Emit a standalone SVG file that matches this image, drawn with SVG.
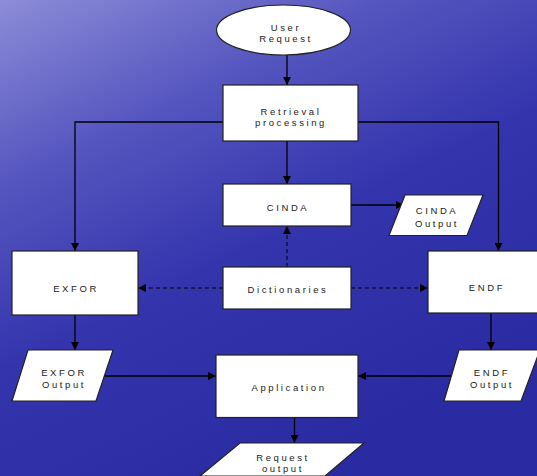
<svg xmlns="http://www.w3.org/2000/svg" width="537" height="476" viewBox="0 0 537 476">
<defs>
<linearGradient id="bg" x1="0" y1="0" x2="0.55" y2="1">
<stop offset="0" stop-color="#8c8cd8"/>
<stop offset="0.3" stop-color="#5656c0"/>
<stop offset="0.6" stop-color="#3434ad"/>
<stop offset="1" stop-color="#2a2aa2"/>
</linearGradient>
<marker id="ah" viewBox="0 0 10 10" refX="10" refY="5" markerWidth="8" markerHeight="8" markerUnits="userSpaceOnUse" orient="auto">
<path d="M0,0 L10,5 L0,10 z" fill="#000"/>
</marker>
</defs>
<style>
.n{fill:#fff;stroke:#222;stroke-width:1.2}
.t{font-family:"Liberation Sans",Arial,sans-serif;font-size:9.5px;fill:#222;letter-spacing:2.6px;text-anchor:middle}
.c{fill:none;stroke:#000;stroke-width:1.3;marker-end:url(#ah)}
.d{fill:none;stroke:#000;stroke-width:1;stroke-dasharray:4,3;marker-end:url(#ah)}
</style>
<rect width="537" height="476" fill="url(#bg)"/>
<g id="connectors">
<path class="c" d="M287,55 V85"/>
<path class="c" d="M223,122 H75 V251"/>
<path class="c" d="M358,122 H498.5 V251"/>
<path class="c" d="M287,141 V184"/>
<path class="c" d="M351,205 H404"/>
<path class="d" d="M287,267 V226"/>
<path class="d" d="M223,288 H138"/>
<path class="d" d="M351,288 H428"/>
<path class="c" d="M75,315 V350"/>
<path class="c" d="M491,313 V350"/>
<path class="c" d="M103,376 H216"/>
<path class="c" d="M452,376 H358"/>
<path class="c" d="M294.5,417.5 V443"/>
</g>
<g id="user-request">
<ellipse class="n" cx="283.5" cy="30" rx="67" ry="25"/>
<text class="t" x="286" y="31">User</text>
<text class="t" x="286" y="42">Request</text>
</g>
<g id="retrieval">
<rect class="n" x="223" y="85" width="135" height="56"/>
<text class="t" x="291" y="115">Retrieval</text>
<text class="t" x="291" y="126">processing</text>
</g>
<g id="cinda">
<rect class="n" x="223" y="184" width="128" height="42"/>
<text class="t" x="288" y="211">CINDA</text>
</g>
<g id="cinda-output">
<polygon class="n" points="405,195 483,195 467,235.5 389,235.5"/>
<text class="t" x="437" y="214">CINDA</text>
<text class="t" x="437" y="227">Output</text>
</g>
<g id="dictionaries">
<rect class="n" x="223" y="267" width="128" height="42"/>
<text class="t" x="288" y="293">Dictionaries</text>
</g>
<g id="exfor">
<rect class="n" x="12" y="251" width="126" height="64"/>
<text class="t" x="76" y="292">EXFOR</text>
</g>
<g id="endf">
<rect class="n" x="428" y="251" width="112" height="62"/>
<text class="t" x="487" y="291">ENDF</text>
</g>
<g id="exfor-output">
<polygon class="n" points="28,350 113,350 96,401 12,401"/>
<text class="t" x="64" y="376">EXFOR</text>
<text class="t" x="64" y="388">Output</text>
</g>
<g id="endf-output">
<polygon class="n" points="459,350 540,350 521,401 444,401"/>
<text class="t" x="492" y="376">ENDF</text>
<text class="t" x="492" y="388">Output</text>
</g>
<g id="application">
<rect class="n" x="216" y="355" width="142" height="62.5"/>
<text class="t" x="289" y="391">Application</text>
</g>
<g id="request-output">
<polygon class="n" points="240,443 364,443 325,476 200,476"/>
<text class="t" x="283" y="461">Request</text>
<text class="t" x="283" y="472">output</text>
</g>
</svg>
